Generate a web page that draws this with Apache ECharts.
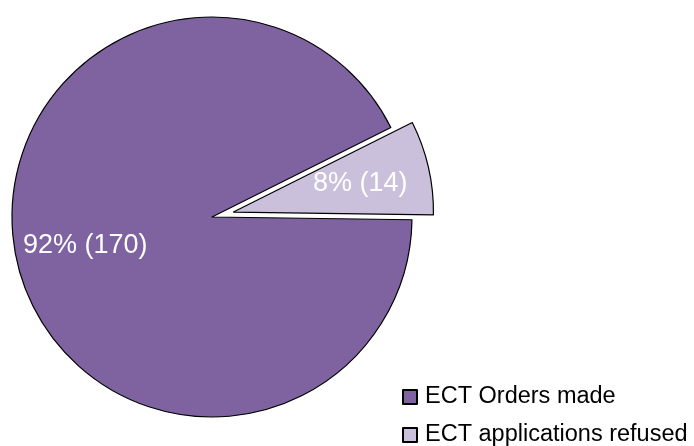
<!DOCTYPE html>
<html>
<head>
<meta charset="utf-8">
<script src="https://cdn.jsdelivr.net/npm/echarts@6/dist/echarts.min.js"></script>
<style>html,body{margin:0;padding:0;background:#fff;}#c{width:694px;height:446px;}</style>
</head>
<body>
<div id="c"></div>
<script>
var categories = ['ECT Orders made', 'ECT applications refused'];
var values = [170, 14];
var colors = ['#7F63A1', '#CBC0DB'];

var chart = echarts.init(document.getElementById('c'), null, {renderer: 'canvas'});
var total = values.reduce(function (a, b) { return a + b; }, 0);

function makeData(withColor) {
  return categories.map(function (name, i) {
    return {
      name: name,
      value: values[i],
      selected: i === 1,
      itemStyle: withColor ? {color: colors[i]} : {color: 'rgba(0,0,0,0)', borderWidth: 0}
    };
  });
}

var common = {
  type: 'pie',
  center: [212, 217],
  startAngle: 26.6,
  clockwise: false,
  selectedMode: 'single',
  selectedOffset: 22,
  animation: false,
  silent: true,
  emphasis: {disabled: true},
  labelLine: {show: false}
};

chart.setOption({
  animation: false,
  color: colors,
  legend: {
    type: 'plain',
    orient: 'vertical',
    left: 402,
    top: 385,
    height: 120,
    width: 290,
    itemWidth: 14,
    itemHeight: 14,
    itemGap: 14,
    padding: 0,
    icon: 'rect',
    selectedMode: false,
    data: categories,
    textStyle: {fontFamily: 'Liberation Sans, Arial, sans-serif', fontSize: 23.5, color: '#000', lineHeight: 24, padding: [0, 0, 0, 3]}
  },
  series: [
    Object.assign({}, common, {
      name: 'main',
      radius: [0, 200],
      itemStyle: {borderColor: '#000', borderWidth: 1.2},
      label: {show: false},
      data: makeData(true)
    }),
    Object.assign({}, common, {
      name: 'labels',
      radius: [54, 200],
      z: 3,
      label: {
        show: true,
        position: 'inside',
        color: '#fff',
        fontFamily: 'Liberation Sans, Arial, sans-serif',
        fontSize: 27,
        formatter: function (p) {
          return Math.round(p.value / total * 100) + '% (' + p.value + ')';
        }
      },
      data: makeData(false)
    })
  ]
});
</script>
</body>
</html>
